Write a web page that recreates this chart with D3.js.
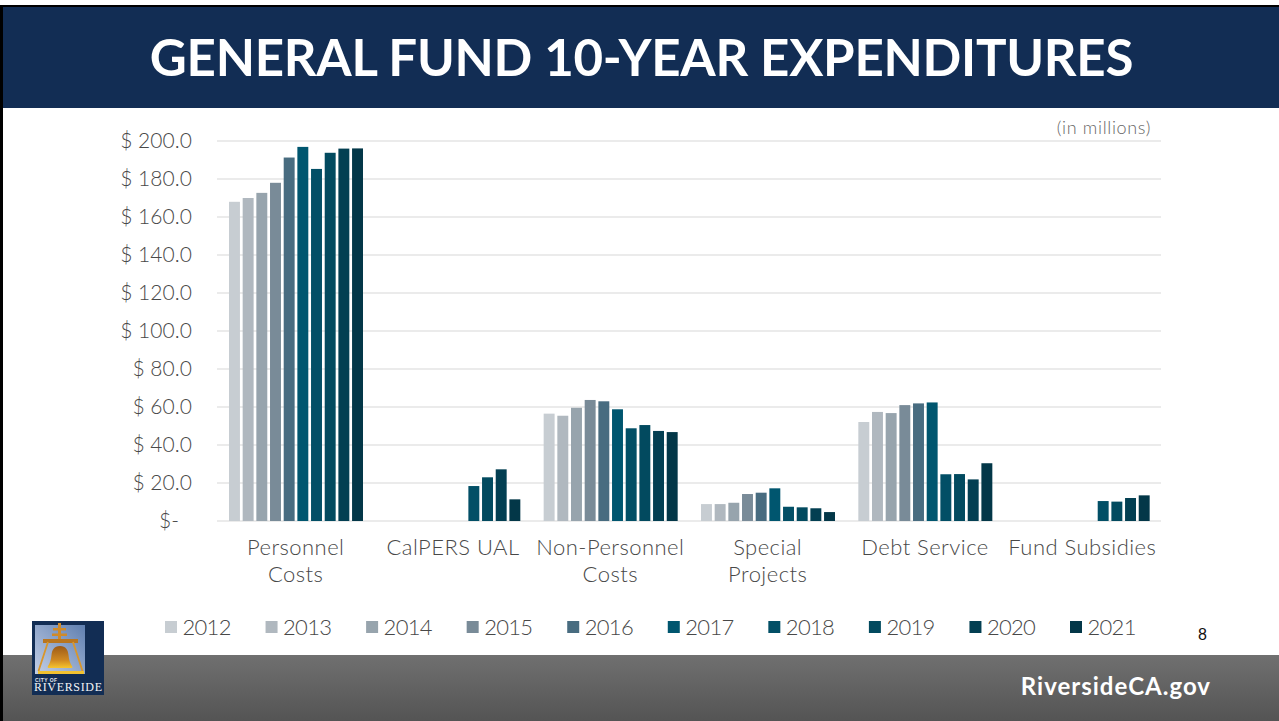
<!DOCTYPE html>
<html>
<head>
<meta charset="utf-8">
<script src="https://cdn.jsdelivr.net/npm/d3@7"></script>
<style>
  html, body { margin: 0; padding: 0; background: #fff; overflow: hidden; }
  svg { display: block; }
  .domain { display: none; }
  .tick line { display: none; }
</style>
</head>
<body>
<svg id="viz_area" width="1279" height="721"></svg>
<script>
const years = ["2012","2013","2014","2015","2016","2017","2018","2019","2020","2021"];
const categories = ["Personnel Costs","CalPERS UAL","Non-Personnel Costs","Special Projects","Debt Service","Fund Subsidies"];
const personnel = [168,170,172.7,178,191.3,196.9,185.3,193.8,196,196.1];
const calpers = [null,null,null,null,null,null,18.4,23,27.2,11.4];
const nonPersonnel = [56.5,55.4,59.6,63.7,63,58.8,48.8,50.5,47.4,46.8];
const special = [8.9,8.9,9.6,14.2,14.9,17.2,7.5,7.2,6.7,4.7];
const debt = [52.1,57.4,56.8,61,61.9,62.4,24.6,24.7,21.9,30.4];
const subsidies = [null,null,null,null,null,null,10.5,10.2,12.1,13.5];
const yTicks = [0,20,40,60,80,100,120,140,160,180,200];
const colors = ["#c7cdd2","#b0b8bf","#97a4ad","#798b98","#486c80","#00566f","#024f66","#024a5f","#033f52","#033748"];

const seriesByCategory = [personnel, calpers, nonPersonnel, special, debt, subsidies];
const font = "Lato, 'Open Sans', sans-serif";
const svg = d3.select("#viz_area");
const defs = svg.append("defs");

// slide frame
const footGrad = defs.append("linearGradient").attr("id", "foot").attr("x2", 0).attr("y2", 1);
footGrad.append("stop").attr("offset", 0).attr("stop-color", "#707070");
footGrad.append("stop").attr("offset", 1).attr("stop-color", "#545454");

svg.append("rect").attr("x", 0).attr("y", 655).attr("width", 1279).attr("height", 66).attr("fill", "url(#foot)");
svg.append("rect").attr("x", 0).attr("y", 6).attr("width", 1279).attr("height", 102).attr("fill", "#122d54");
svg.append("rect").attr("x", 0).attr("y", 5).attr("width", 1279).attr("height", 2).attr("fill", "#000");
svg.append("rect").attr("x", 0).attr("y", 5).attr("width", 3).attr("height", 716).attr("fill", "#000");

svg.append("text")
    .attr("x", 641.5).attr("y", 76)
    .attr("text-anchor", "middle")
    .attr("fill", "#fff")
    .style("font", `700 51px ${font}`)
    .style("letter-spacing", "-0.26px")
    .text("GENERAL FUND 10-YEAR EXPENDITURES");

// scales
const x0 = d3.scaleBand().domain(categories).range([217, 1161]);
const x1 = d3.scaleBand().domain(years).range([12, 146]).paddingInner(0.2).paddingOuter(0);
const y = d3.scaleLinear().domain([0, 200]).range([521, 141]);
const legendX = d3.scalePoint().domain(years).range([165, 1070]);

// gridlines
svg.append("g").selectAll("line")
    .data(yTicks)
    .join("line")
    .attr("x1", 217).attr("x2", 1161)
    .attr("y1", d => y(d)).attr("y2", d => y(d))
    .attr("stroke", "#e4e4e4")
    .attr("stroke-width", 1.4);

// axes
const yAxis = svg.append("g")
    .attr("transform", "translate(192,0)")
    .call(d3.axisLeft(y).tickValues(yTicks).tickSize(0).tickPadding(0)
        .tickFormat(d => d === 0 ? "$-" : "$ " + d.toFixed(1)));
yAxis.selectAll("text")
    .attr("fill", "#484848")
    .attr("dx", d => d === 0 ? -13 : 0)
    .style("font", `300 21px ${font}`)
    .style("letter-spacing", "0.05px");

const xAxis = svg.append("g")
    .attr("transform", "translate(0,521)")
    .call(d3.axisBottom(x0).tickSize(0).tickFormat(""));
xAxis.selectAll(".tick text").each(function(d) {
    const wrap = ["Personnel Costs","Non-Personnel Costs","Special Projects"].includes(d);
    const lines = wrap ? [d.slice(0, d.lastIndexOf(" ")), d.slice(d.lastIndexOf(" ") + 1)] : [d];
    d3.select(this).attr("y", 0).attr("dy", null)
        .selectAll("tspan")
        .data(lines)
        .join("tspan")
        .attr("x", 0)
        .attr("y", (l, i) => 34 + i * 27)
        .attr("fill", "#484848")
        .style("font", `300 22px ${font}`)
        .style("letter-spacing", "0.45px")
        .text(l => l);
});

// bars
svg.append("g").selectAll("g")
    .data(categories)
    .join("g")
    .attr("transform", d => `translate(${x0(d)},0)`)
    .selectAll("rect")
    .data((d, i) => years.map((yr, j) => ({year: yr, value: seriesByCategory[i][j], color: colors[j]})).filter(b => b.value !== null))
    .join("rect")
    .attr("x", d => x1(d.year))
    .attr("y", d => y(d.value))
    .attr("width", x1.bandwidth())
    .attr("height", d => y(0) - y(d.value))
    .attr("fill", d => d.color);

svg.append("text")
    .attr("x", 1151).attr("y", 134)
    .attr("text-anchor", "end")
    .attr("fill", "#666")
    .style("font", `300 18px ${font}`)
    .style("letter-spacing", "0.65px")
    .text("(in millions)");

// legend
const legend = svg.append("g").selectAll("g")
    .data(years)
    .join("g")
    .attr("transform", d => `translate(${legendX(d)},0)`);
legend.append("rect")
    .attr("y", 621).attr("width", 12).attr("height", 12)
    .attr("fill", (d, i) => colors[i]);
legend.append("text")
    .attr("x", 17.5).attr("y", 635)
    .attr("fill", "#484848")
    .style("font", `300 22px ${font}`)
    .style("letter-spacing", "-0.7px")
    .text(d => d);

svg.append("text")
    .attr("x", 1202.5).attr("y", 640)
    .attr("text-anchor", "middle")
    .attr("fill", "#111")
    .style("font", "400 16px 'Liberation Sans', sans-serif")
    .text("8");

svg.append("text")
    .attr("x", 1211).attr("y", 695)
    .attr("text-anchor", "end")
    .attr("fill", "#fff")
    .style("font", `700 24px ${font}`)
    .style("letter-spacing", "1px")
    .text("RiversideCA.gov");

// city logo
const panelGrad = defs.append("linearGradient").attr("id", "panel").attr("x1", 0).attr("y1", 1).attr("x2", 1).attr("y2", 0);
panelGrad.append("stop").attr("offset", 0).attr("stop-color", "#c3cfe6");
panelGrad.append("stop").attr("offset", 1).attr("stop-color", "#5f7fb0");
const bellGrad = defs.append("linearGradient").attr("id", "bell").attr("x1", 0).attr("y1", 0).attr("x2", 0).attr("y2", 1);
bellGrad.append("stop").attr("offset", 0).attr("stop-color", "#9c5a16");
bellGrad.append("stop").attr("offset", 0.65).attr("stop-color", "#d08a22");
bellGrad.append("stop").attr("offset", 1).attr("stop-color", "#f6c52e");

const logo = svg.append("g");
logo.append("rect").attr("x", 32).attr("y", 621).attr("width", 72).attr("height", 74).attr("fill", "#122d54");
logo.append("rect").attr("x", 35).attr("y", 625).attr("width", 50).attr("height", 49).attr("fill", "url(#panel)");
logo.append("path").attr("fill", "#d08a28")
    .attr("d", "M58 623h3v5h5v2.500h-5v3h6v2.500h-6v3h-3v-3h-6v-2.500h6v-3h-5v-2.500h5z");
logo.append("rect").attr("x", 43).attr("y", 639).attr("width", 35).attr("height", 4).attr("fill", "#b9761f");
logo.append("path").attr("fill", "none").attr("stroke", "#d9962a").attr("stroke-width", 1.8)
    .attr("d", "M48 642L38.500 671M73 642L82.500 671");
logo.append("path").attr("fill", "url(#bell)")
    .attr("d", "M60 646c-6 0-8 4-8.500 9c-.5 5-1.500 8-3.500 11c-1 1.500 0 2 1 2h22c1 0 2-.5 1-2c-2-3-3-6-3.500-11c-.5-5-2.500-9-8.500-9z");
logo.append("rect").attr("x", 38).attr("y", 671).attr("width", 46).attr("height", 3).attr("fill", "#f2c230");
logo.append("text").attr("x", 35).attr("y", 681.500).attr("fill", "#e6e8ee")
    .attr("textLength", 22)
    .style("font", "700 5px 'Liberation Sans', sans-serif").text("CITY OF");
logo.append("text").attr("x", 34).attr("y", 691).attr("fill", "#f2f3f6")
    .attr("textLength", 68)
    .style("font", "400 12px 'Liberation Serif', serif").text("RIVERSIDE");
</script>
</body>
</html>
